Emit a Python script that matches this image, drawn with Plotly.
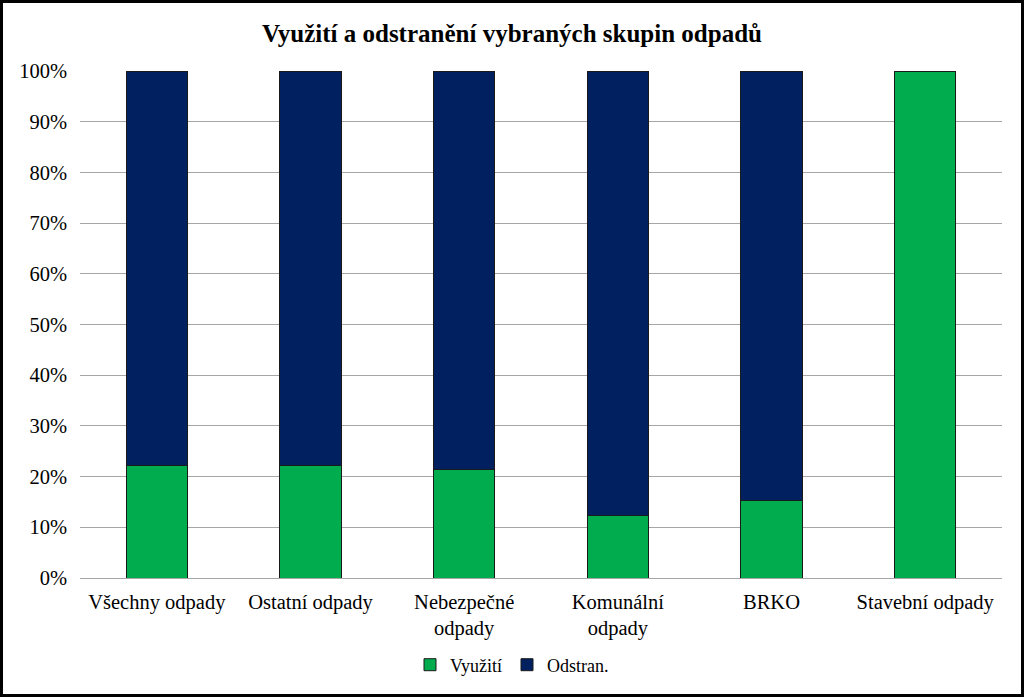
import plotly.graph_objects as go

# Data (share in %)
categories = ['Všechny odpady', 'Ostatní odpady', 'Nebezpečné<br>odpady',
              'Komunální<br>odpady', 'BRKO', 'Stavební odpady']
vyuziti = [22.1, 22.1, 21.5, 12.4, 15.2, 100.0]
odstran = [77.9, 77.9, 78.5, 87.6, 84.8, 0.0]

W, H = 1024, 697
ML, MR, MT, MB = 80, 22, 71, 119
pw, ph = W - ML - MR, H - MT - MB

fig = go.Figure()
fig.add_trace(go.Bar(x=categories, y=vyuziti, name='Využití',
                     marker=dict(color='#00AC4E', line=dict(color='#1a1a1a', width=1))))
fig.add_trace(go.Bar(x=categories, y=odstran, name='Odstran.',
                     marker=dict(color='#002060', line=dict(color='#1a1a1a', width=1))))

fig.update_layout(
    width=W, height=H,
    barmode='stack', bargap=0.6,
    margin=dict(l=ML, r=MR, t=MT, b=MB),
    paper_bgcolor='white', plot_bgcolor='white',
    font=dict(family='Liberation Serif, Times New Roman, serif', size=20, color='black'),
    title=dict(text='<b>Využití a odstranění vybraných skupin odpadů</b>',
               x=0.5, xref='container', xanchor='center',
               y=1 - 33 / H, yref='container', yanchor='middle',
               font=dict(size=25, color='black')),
    legend=dict(orientation='h', x=(512 - ML) / pw, xanchor='center',
                y=-(665 - (H - MB)) / ph, yanchor='middle',
                font=dict(size=18), traceorder='normal', itemwidth=30),
    showlegend=True,
)
fig.update_xaxes(showline=True, linecolor='#A6A6A6', linewidth=1, ticks='',
                 tickfont=dict(size=20.5), ticklabelstandoff=5)
fig.update_yaxes(range=[0, 100], dtick=10, ticksuffix='%', showgrid=True,
                 gridcolor='#A6A6A6', gridwidth=1, zeroline=False, showline=False,
                 ticks='', tickfont=dict(size=20.5), ticklabelstandoff=12)

# outer frame around the whole chart
fig.add_shape(type='rect', xref='paper', yref='paper',
              x0=-(ML - 1.5) / pw, x1=1 + (MR - 1.5) / pw,
              y0=-(MB - 1.5) / ph, y1=1 + (MT - 1.5) / ph,
              line=dict(color='black', width=3), layer='above')

fig.write_html('out.html', config={'displayModeBar': False},
               post_script="document.body.style.margin='0';")
